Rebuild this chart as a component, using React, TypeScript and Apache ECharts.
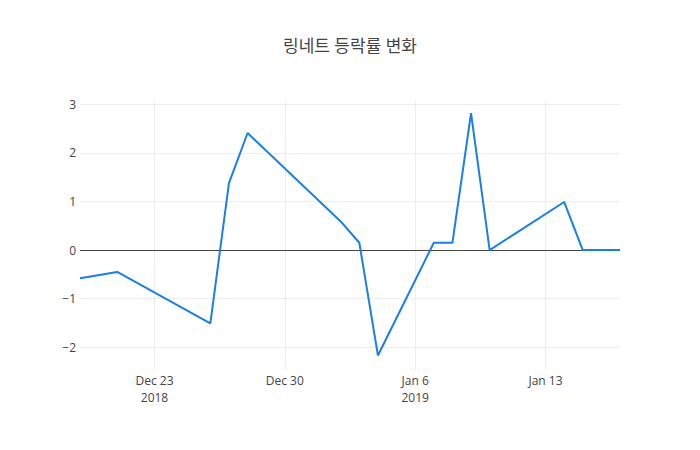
import React, { useEffect, useRef } from "react";
import * as echarts from "echarts";

const dates = [
  "2018-12-19", "2018-12-21", "2018-12-26", "2018-12-27", "2018-12-28",
  "2019-01-02", "2019-01-03", "2019-01-04", "2019-01-07", "2019-01-08",
  "2019-01-09", "2019-01-10", "2019-01-14", "2019-01-15", "2019-01-17",
];
const changes = [
  -0.58, -0.45, -1.51, 1.38, 2.41,
  0.59, 0.15, -2.17, 0.15, 0.15,
  2.82, 0.0, 0.99, 0.0, 0.0,
];
const xTickDates = ["2018-12-23", "2018-12-30", "2019-01-06", "2019-01-13"];
const yTicks = [-2, -1, 0, 1, 2, 3];
const title = "링네트 등락률 변화";

const MONTHS = ["Jan", "Feb", "Mar", "Apr", "May", "Jun", "Jul", "Aug", "Sep", "Oct", "Nov", "Dec"];
const toTs = (s: string) => {
  const [y, m, d] = s.split("-").map(Number);
  return Date.UTC(y, m - 1, d);
};

export default function App() {
  const ref = useRef<HTMLDivElement>(null);
  useEffect(() => {
    document.body.style.margin = "0";
    const chart = echarts.init(ref.current!, null, { renderer: "svg" });
    const xTicks = xTickDates.map(toTs);
    const data = dates.map((d, i) => [toTs(d), changes[i]]);
    const font = "'Open Sans', 'Noto Sans CJK KR', sans-serif";
    chart.setOption({
      animation: false,
      backgroundColor: "#fff",
      title: {
        text: title,
        left: "center",
        top: 32,
        textStyle: { fontSize: 17, fontWeight: "normal", color: "#444", fontFamily: font },
      },
      grid: { left: 80, right: 80, top: 100, bottom: 80, containLabel: false },
      xAxis: {
        type: "value",
        min: toTs(dates[0]),
        max: toTs(dates[dates.length - 1]),
        axisLine: { show: false },
        axisTick: { show: false, customValues: xTicks },
        splitLine: { show: true, lineStyle: { color: "#eee", width: 1 } },
        axisLabel: {
          customValues: xTicks,
          margin: 2,
          color: "#444",
          fontSize: 12,
          lineHeight: 17,
          fontFamily: font,
          formatter: (v: number) => {
            const d = new Date(v);
            const y = d.getUTCFullYear();
            let s = MONTHS[d.getUTCMonth()] + " " + d.getUTCDate();
            const first = v === xTicks[0] || y !== new Date(v - 7 * 86400000).getUTCFullYear();
            if (first) s += "\n" + y;
            return s;
          },
        },
      },
      yAxis: {
        type: "value",
        min: -2.47,
        max: 3.09,
        axisLine: { show: false },
        axisTick: { show: false, customValues: yTicks },
        splitLine: { show: true, lineStyle: { color: "#eee", width: 1 } },
        axisLabel: {
          customValues: yTicks,
          margin: 4,
          color: "#444",
          fontSize: 12,
          fontFamily: font,
          formatter: (v: number) => (v < 0 ? "\u2212" + Math.abs(v) : String(v)),
        },
      },
      series: [
        {
          type: "line",
          data,
          showSymbol: false,
          symbol: "none",
          lineStyle: { color: "#1a7fe6", width: 2 },
          itemStyle: { color: "#1a7fe6" },
          z: 3,
          markLine: {
            silent: true,
            symbol: "none",
            label: { show: false },
            lineStyle: { color: "#444", width: 1, type: "solid" },
            data: [{ yAxis: 0 }],
            z: 2,
          },
        },
      ],
    });
    return () => chart.dispose();
  }, []);
  return <div ref={ref} style={{ width: 700, height: 450 }} />;
}
